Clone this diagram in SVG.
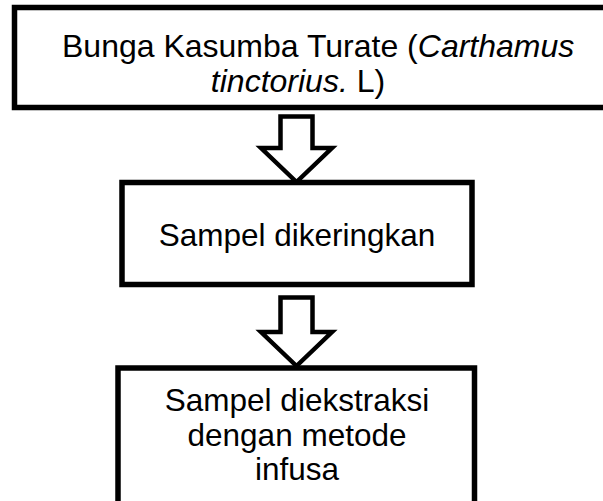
<svg xmlns="http://www.w3.org/2000/svg" width="603" height="501" viewBox="0 0 603 501">
<style>
.box{fill:#fff;stroke:#000;stroke-width:5.5}
.arr{fill:#fff;stroke:#000;stroke-width:4.5;stroke-linejoin:miter}
.t{font-family:"Liberation Sans",Arial,sans-serif;fill:#000;font-size:31.5px}
.c{text-anchor:middle}
.big{font-size:32px}
</style>
<rect width="603" height="501" fill="#fff"/>
<g id="node-bunga">
<rect class="box" x="14.5" y="7.5" width="620" height="100"/>
<text class="t big" x="62" y="57">Bunga Kasumba Turate (<tspan font-style="italic">Carthamus</tspan></text>
<text class="t big c" x="298" y="92"><tspan font-style="italic">tinctorius.</tspan> L)</text>
</g>
<g id="node-dikeringkan">
<rect class="box" x="122" y="182.5" width="350" height="102"/>
<text class="t c" x="297" y="246">Sampel dikeringkan</text>
</g>
<g id="node-diekstraksi">
<rect class="box" x="118" y="368" width="356.5" height="200"/>
<text class="t c"><tspan x="297" y="411">Sampel diekstraksi</tspan><tspan x="297" y="445.5">dengan metode</tspan><tspan x="297" y="480">infusa</tspan></text>
</g>
<g id="connectors">
<polygon class="arr" points="280.5,116.5 312.5,116.5 312.5,148 332,148 296.5,182 261,148 280.5,148"/>
<polygon class="arr" points="280.5,297.5 312.5,297.5 312.5,332 332,332 296.5,366 261,332 280.5,332"/>
</g>
</svg>
